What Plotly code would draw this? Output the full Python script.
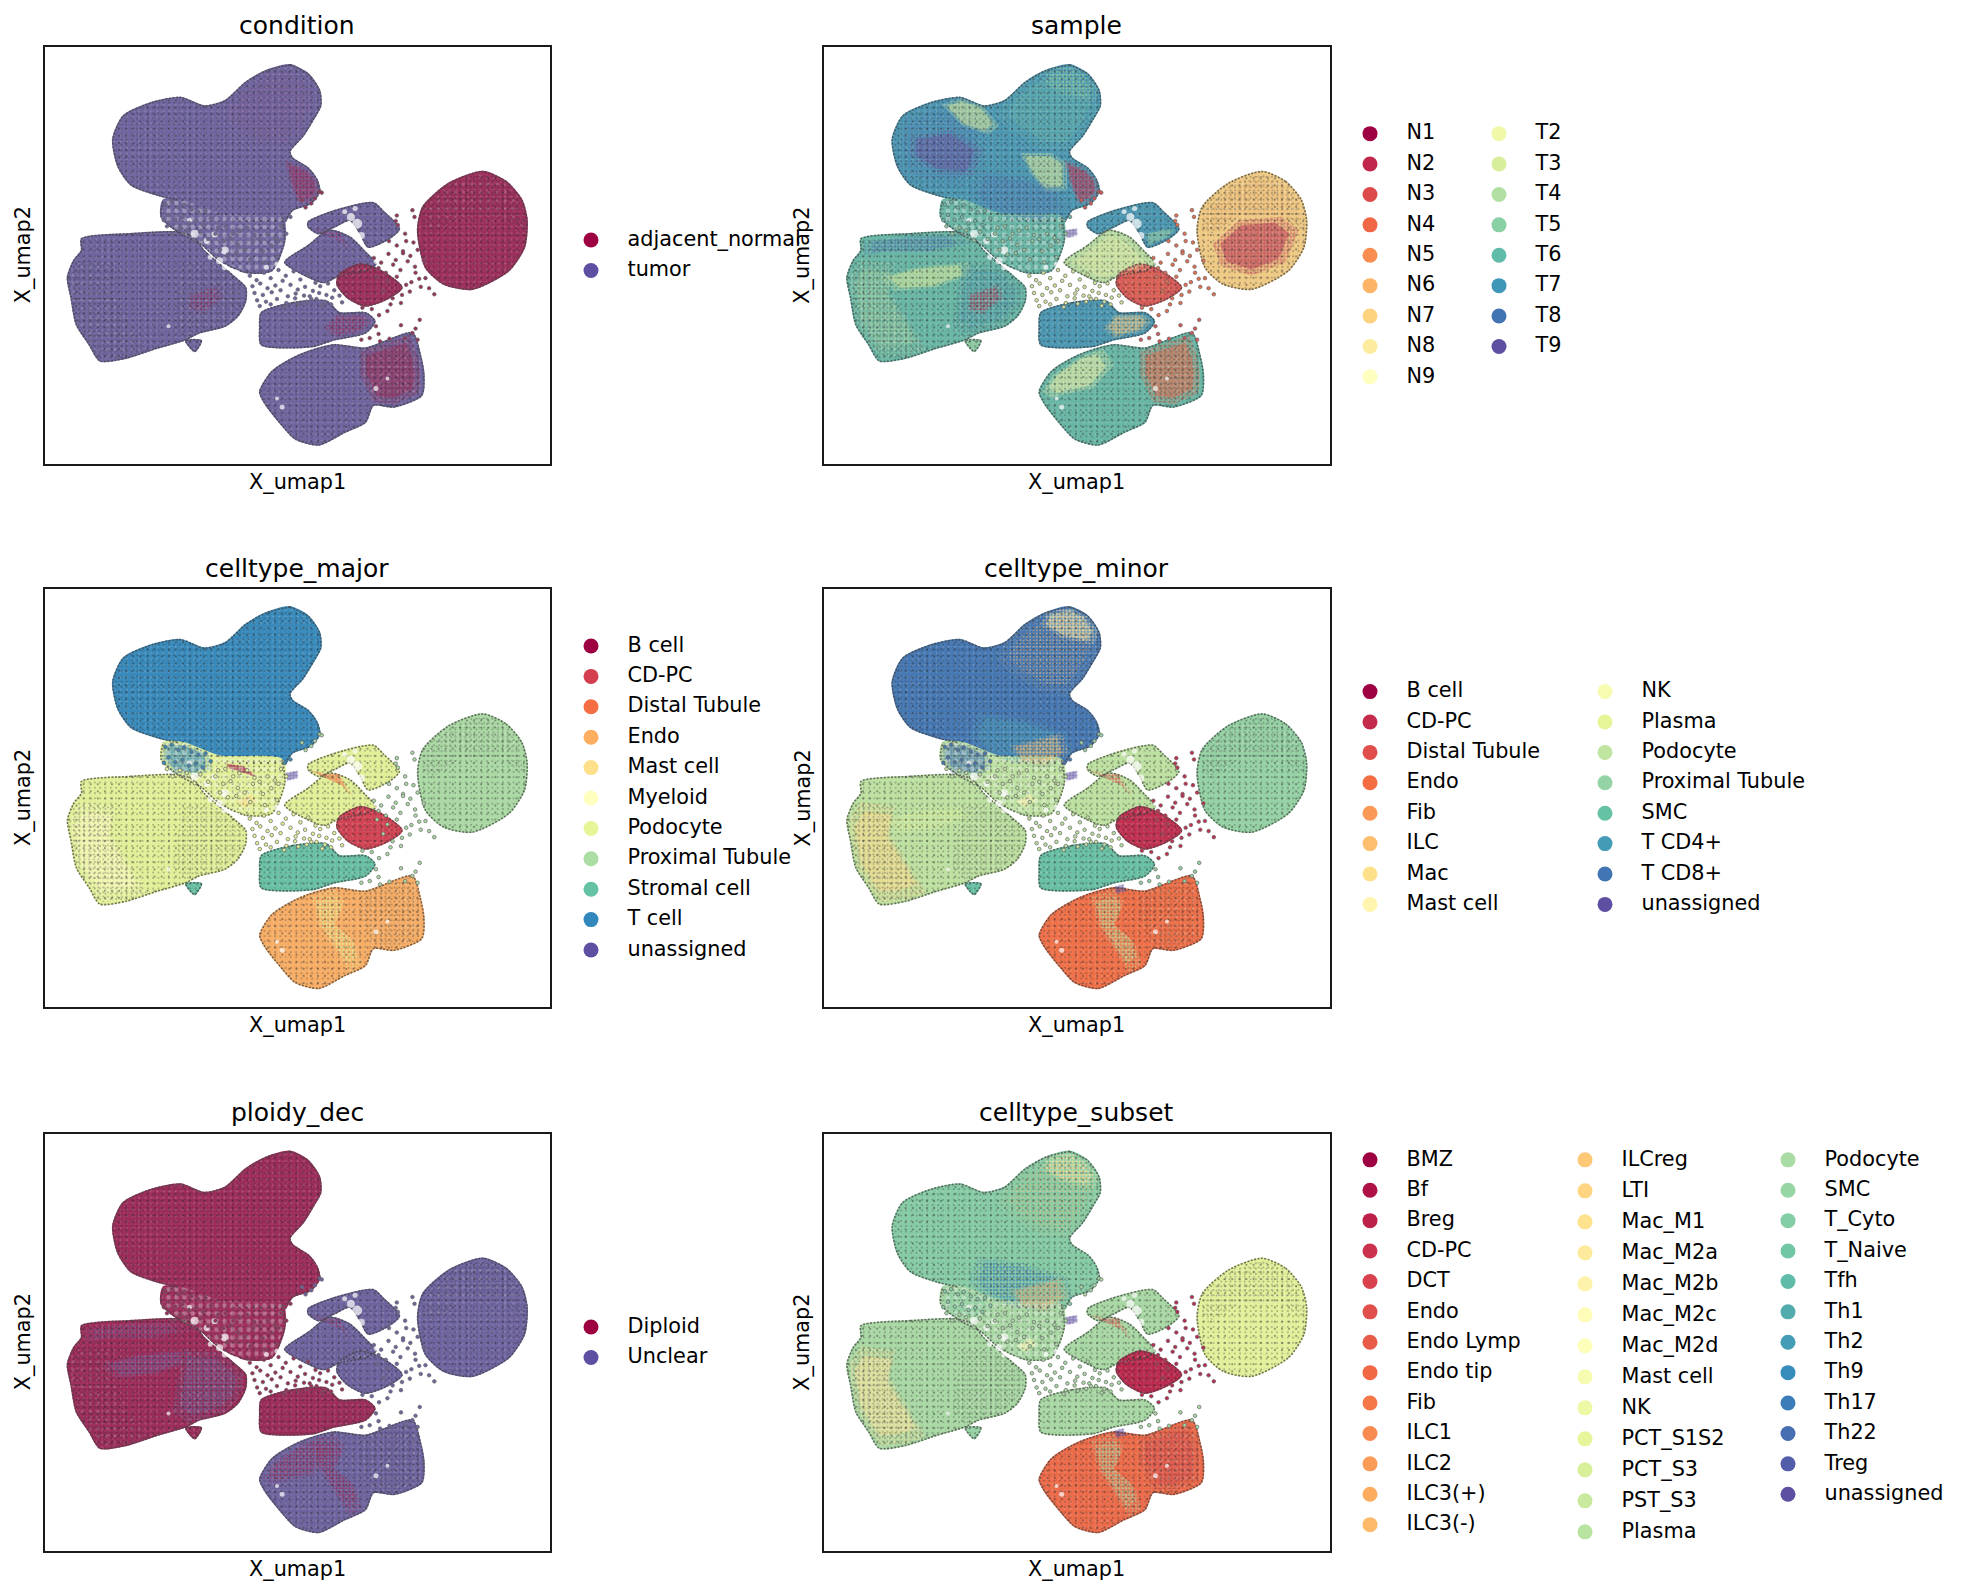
import plotly.graph_objects as go
from plotly.colors import sample_colorscale, diverging

W, H = 1967, 1596
FONT = "DejaVu Sans"

# legend categories, one list per panel
condition = ["adjacent_normal", "tumor"]
sample = ["N1", "N2", "N3", "N4", "N5", "N6", "N7", "N8", "N9",
          "T2", "T3", "T4", "T5", "T6", "T7", "T8", "T9"]
celltype_major = ["B cell", "CD-PC", "Distal Tubule", "Endo", "Mast cell", "Myeloid", "Podocyte",
                  "Proximal Tubule", "Stromal cell", "T cell", "unassigned"]
celltype_minor = ["B cell", "CD-PC", "Distal Tubule", "Endo", "Fib", "ILC", "Mac", "Mast cell",
                  "NK", "Plasma", "Podocyte", "Proximal Tubule", "SMC", "T CD4+", "T CD8+", "unassigned"]
ploidy_dec = ["Diploid", "Unclear"]
celltype_subset = ["BMZ", "Bf", "Breg", "CD-PC", "DCT", "Endo", "Endo Lymp", "Endo tip", "Fib",
                   "ILC1", "ILC2", "ILC3(+)", "ILC3(-)",
                   "ILCreg", "LTI", "Mac_M1", "Mac_M2a", "Mac_M2b", "Mac_M2c", "Mac_M2d", "Mast cell",
                   "NK", "PCT_S1S2", "PCT_S3", "PST_S3", "Plasma",
                   "Podocyte", "SMC", "T_Cyto", "T_Naive", "Tfh", "Th1", "Th2", "Th9", "Th17", "Th22",
                   "Treg", "unassigned"]

# cluster outlines (x1, x2 positions, x2 running downwards)
tcell_x = [555, 590, 612, 614, 600, 580, 555, 560, 590, 607, 612, 595, 560, 545, 500, 440, 380, 340, 300, 250, 225, 215, 235, 290, 345, 390, 430, 470, 510, 555]
tcell_y = [188, 215, 265, 310, 350, 400, 445, 465, 495, 530, 565, 600, 620, 655, 665, 650, 610, 590, 575, 545, 490, 410, 340, 300, 285, 310, 295, 240, 205, 188]
lobe_x = [430, 470, 510, 555, 590, 612, 614, 600, 580, 555, 500, 440, 415, 430]
lobe_y = [295, 240, 205, 188, 215, 265, 310, 350, 400, 445, 440, 380, 340, 295]
lobe_tip_x = [510, 555, 590, 612, 600, 540, 500, 510]
lobe_tip_y = [205, 188, 215, 265, 300, 280, 240, 205]
tleft_x = [215, 235, 290, 345, 390, 400, 390, 340, 280, 240, 225, 215]
tleft_y = [410, 340, 300, 285, 310, 400, 500, 560, 555, 530, 490, 410]
tcore_x = [250, 330, 390, 370, 300, 250, 250]
tcore_y = [400, 380, 440, 520, 510, 460, 400]
tyellow_x = [310, 345, 390, 420, 400, 350, 310]
tyellow_y = [305, 287, 310, 370, 395, 370, 305]
tmid_x = [460, 520, 550, 550, 510, 480, 460]
tmid_y = [450, 450, 480, 560, 570, 510, 450]
tlower_x = [380, 470, 550, 560, 510, 450, 390, 360, 380]
tlower_y = [500, 520, 560, 620, 665, 650, 620, 570, 500]
tlower2_x = [440, 540, 555, 510, 460, 440]
tlower2_y = [600, 560, 620, 665, 650, 600]
tred_x = [545, 585, 607, 612, 595, 570, 555, 545]
tred_y = [470, 495, 530, 570, 600, 600, 540, 470]
fringe_x = [312, 350, 420, 540, 545, 520, 470, 420, 385, 345, 308, 312]
fringe_y = [590, 590, 630, 640, 710, 800, 805, 770, 722, 690, 640, 590]
fringe_up_x = [312, 350, 400, 405, 380, 330, 308, 312]
fringe_up_y = [590, 590, 620, 665, 690, 680, 640, 590]

left_x = [155, 250, 340, 370, 390, 420, 450, 470, 470, 455, 430, 380, 355, 300, 240, 190, 170, 145, 135, 128, 140, 155, 155]
left_y = [705, 690, 685, 700, 740, 780, 820, 850, 890, 935, 965, 985, 1005, 1030, 1060, 1068, 1020, 960, 880, 820, 770, 740, 705]
ltop_x = [160, 250, 340, 365, 300, 200, 160, 160]
ltop_y = [712, 696, 692, 720, 745, 745, 755, 712]
lright_x = [350, 420, 465, 465, 450, 430, 360, 330, 340, 350]
lright_y = [775, 785, 850, 890, 930, 960, 995, 960, 860, 775]
louter_x = [140, 155, 220, 210, 250, 280, 240, 192, 172, 148, 138, 132, 140]
louter_y = [800, 765, 780, 860, 960, 1036, 1056, 1062, 1016, 956, 880, 820, 800]
lband_x = [190, 260, 360, 370, 300, 220, 190]
lband_y = [820, 790, 775, 810, 850, 860, 820]
lred_x = [360, 420, 430, 390, 360, 360]
lred_y = [870, 840, 880, 930, 920, 870]
tip_x = [355, 385, 372, 355]
tip_y = [1008, 1008, 1040, 1008]

arm_x = [590, 640, 715, 735, 765, 745, 705, 690, 670, 640, 610, 590, 590]
arm_y = [655, 622, 598, 625, 675, 705, 730, 690, 650, 670, 690, 670, 655]
armtip_x = [700, 740, 760, 745, 705, 700]
armtip_y = [690, 675, 677, 702, 726, 690]
body_x = [545, 590, 630, 670, 700, 720, 700, 650, 620, 585, 545]
body_y = [775, 725, 680, 700, 745, 780, 800, 815, 835, 815, 775]
cdpc_x = [650, 690, 730, 770, 740, 700, 665, 645, 650]
cdpc_y = [810, 780, 800, 850, 885, 905, 880, 840, 810]
pt_x = [925, 970, 1000, 1010, 1005, 975, 905, 850, 815, 800, 810, 860, 925]
pt_y = [505, 535, 590, 650, 730, 800, 855, 840, 790, 680, 610, 540, 505]
ptcore_x = [830, 880, 960, 995, 970, 905, 845, 830]
ptcore_y = [720, 650, 640, 680, 775, 815, 785, 720]
ptrim_x = [815, 862, 925, 966, 995, 1002, 960, 880, 830, 810, 815]
ptrim_y = [612, 546, 512, 540, 594, 680, 640, 640, 690, 680, 612]
stromal_x = [500, 560, 625, 650, 700, 718, 700, 640, 600, 500, 497, 500]
stromal_y = [925, 895, 890, 925, 925, 950, 985, 1005, 1025, 1020, 970, 925]
sright_x = [640, 698, 712, 696, 640, 620, 640]
sright_y = [932, 930, 950, 980, 1000, 970, 932]
endo_x = [590, 640, 700, 790, 805, 812, 808, 755, 715, 700, 660, 610, 565, 540, 505, 497, 520, 560, 590]
endo_y = [1040, 1020, 1030, 985, 1050, 1110, 1170, 1205, 1200, 1250, 1280, 1318, 1300, 1260, 1190, 1160, 1100, 1060, 1040]
eright_x = [690, 785, 800, 806, 802, 755, 715, 690, 690]
eright_y = [1040, 992, 1050, 1110, 1165, 1198, 1190, 1110, 1040]
eleft_x = [524, 580, 620, 640, 600, 520, 503, 524]
eleft_y = [1110, 1052, 1032, 1080, 1150, 1176, 1158, 1110]
estreak_x = [595, 640, 660, 640, 680, 694, 670, 640, 610, 595]
estreak_y = [1045, 1026, 1060, 1130, 1180, 1246, 1272, 1200, 1130, 1045]
unas_x = [545, 570, 572, 550, 545]
unas_y = [680, 672, 695, 705, 680]
unas2_x = [640, 660, 665, 645, 640]
unas2_y = [1015, 1008, 1030, 1040, 1015]
mast_x = [452, 480, 495, 470, 452]
mast_y = [765, 740, 760, 785, 765]
bstreak_x = [430, 470, 495, 465, 435, 430]
bstreak_y = [650, 660, 695, 680, 665, 650]
distal_x = [590, 620, 650, 665, 680, 660, 630, 590]
distal_y = [670, 680, 680, 720, 760, 720, 700, 670]

# loose cells between the clusters
loose_top_x = [316, 328, 341, 352, 366, 379, 393, 322, 335, 349, 361, 374, 388, 403, 417, 431, 446, 458, 473, 487, 319, 344, 357, 383, 398, 412, 427, 441, 455, 468, 484, 497, 512, 526, 538, 313, 330, 372, 421, 436, 452, 479, 503, 519, 533, 545, 556, 548, 530, 507]
loose_top_y = [603, 596, 612, 604, 618, 626, 622, 634, 648, 641, 658, 652, 664, 645, 672, 668, 690, 681, 672, 694, 668, 672, 680, 684, 706, 690, 712, 704, 724, 738, 712, 706, 690, 702, 668, 650, 690, 710, 738, 752, 748, 766, 742, 725, 712, 650, 640, 690, 760, 775]
loose_mid_x = [478, 491, 505, 518, 533, 547, 562, 575, 590, 604, 483, 498, 512, 527, 541, 556, 570, 584, 599, 613, 628, 487, 503, 520, 537, 551, 566, 582, 596, 611, 625, 640, 492, 509, 530, 548, 565, 587, 606, 622, 636, 650, 497, 518, 544, 571, 593, 617, 634, 655]
loose_mid_y = [815, 828, 806, 822, 798, 815, 802, 826, 812, 836, 846, 838, 852, 844, 830, 842, 856, 848, 860, 846, 838, 866, 872, 864, 858, 876, 868, 874, 884, 866, 872, 858, 888, 892, 884, 896, 882, 892, 884, 892, 880, 874, 905, 900, 908, 898, 876, 904, 900, 894]
loose_gap_x = [716, 730, 744, 758, 772, 786, 800, 725, 739, 753, 767, 781, 795, 812, 722, 742, 760, 778, 796, 815, 734, 752, 770, 788, 806, 748, 768, 785, 803, 822, 832, 760, 742, 726, 712, 694, 776, 758, 762, 778, 794, 760, 745, 772, 792, 790]
loose_gap_y = [762, 776, 750, 768, 742, 756, 738, 792, 806, 782, 798, 772, 788, 770, 818, 832, 818, 842, 806, 822, 860, 882, 872, 834, 848, 900, 896, 862, 824, 852, 870, 636, 920, 932, 914, 910, 690, 652, 664, 712, 640, 725, 712, 748, 716, 620]
loose_tail_x = [804, 796, 768, 725, 746, 790, 728, 708, 776, 800, 692, 720, 612, 603, 596, 616, 585, 578]
loose_tail_y = [946, 972, 962, 988, 1002, 985, 1010, 1000, 1000, 1005, 1005, 965, 565, 585, 600, 568, 612, 590]

# gaps inside the clusters
gap_x = [372, 395, 362, 410, 430, 420, 402, 684, 672, 692, 680, 660, 722, 322, 540, 530, 720, 742, 430, 452, 530, 510]
gap_y = [690, 712, 650, 692, 740, 770, 760, 660, 640, 695, 615, 625, 770, 965, 1205, 1180, 1150, 1120, 790, 805, 780, 790]
gap_size = [8, 6, 5, 6, 8, 7, 5, 10, 8, 7, 5, 5, 7, 4, 5, 4, 5, 4, 6, 6, 5, 5]

REGIONS = {
    "tcell": (tcell_x, tcell_y), "lobe": (lobe_x, lobe_y), "lobe_tip": (lobe_tip_x, lobe_tip_y),
    "tleft": (tleft_x, tleft_y), "tcore": (tcore_x, tcore_y), "tyellow": (tyellow_x, tyellow_y),
    "tmid": (tmid_x, tmid_y), "tlower": (tlower_x, tlower_y), "tlower2": (tlower2_x, tlower2_y),
    "tred": (tred_x, tred_y), "fringe": (fringe_x, fringe_y), "fringe_up": (fringe_up_x, fringe_up_y), "left": (left_x, left_y),
    "ltop": (ltop_x, ltop_y), "lright": (lright_x, lright_y), "louter": (louter_x, louter_y),
    "lband": (lband_x, lband_y), "lred": (lred_x, lred_y), "tip": (tip_x, tip_y),
    "arm": (arm_x, arm_y), "armtip": (armtip_x, armtip_y), "body": (body_x, body_y),
    "cdpc": (cdpc_x, cdpc_y), "pt": (pt_x, pt_y), "ptcore": (ptcore_x, ptcore_y), "ptrim": (ptrim_x, ptrim_y),
    "stromal": (stromal_x, stromal_y), "sright": (sright_x, sright_y), "endo": (endo_x, endo_y),
    "eright": (eright_x, eright_y), "eleft": (eleft_x, eleft_y), "estreak": (estreak_x, estreak_y),
    "unas": (unas_x, unas_y), "unas2": (unas2_x, unas2_y), "mast": (mast_x, mast_y),
    "bstreak": (bstreak_x, bstreak_y), "distal": (distal_x, distal_y),
}
OUTER = ["tcell", "fringe", "left", "arm", "body", "cdpc", "pt", "stromal", "endo", "tip"]
SPARSE = ["ptrim", "louter", "lright", "eright"]
OUTLINE_CUT = {"tcell": (14, 17), "fringe": (1, 3)}

# which category dominates each region, (region, category, strength)
condition_map = [
    ("tcell", "tumor", 1), ("fringe", "tumor", 1), ("left", "tumor", 1), ("arm", "tumor", 1), ("body", "tumor", 1),
    ("cdpc", "adjacent_normal", 1), ("pt", "adjacent_normal", 1), ("stromal", "tumor", 1), ("endo", "tumor", 1), ("tip", "tumor", 1),
    ("tleft", "tumor", .3), ("tcore", "tumor", .5), ("tlower", "tumor", .4), ("tred", "adjacent_normal", .7),
    ("lobe", "adjacent_normal", .08), ("lred", "adjacent_normal", .35), ("sright", "adjacent_normal", .5),
    ("eright", "adjacent_normal", .95), ("ptcore", "adjacent_normal", .6), ("distal", "adjacent_normal", .3),
]
sample_map = [
    ("tcell", "T7", 1), ("fringe", "T6", 1), ("left", "T6", 1), ("arm", "T7", 1), ("body", "T4", 1),
    ("cdpc", "N3", 1), ("pt", "N7", 1), ("stromal", "T7", 1), ("endo", "T6", 1), ("tip", "T5", 1),
    ("lobe", "T6", .6), ("lobe_tip", "T5", .4), ("tleft", "T8", .4), ("tcore", "T9", .85), ("tyellow", "T3", .9),
    ("tmid", "T3", .9), ("tlower", "T8", .6), ("tred", "N2", .8), ("ltop", "T8", .6), ("lband", "T3", .9),
    ("louter", "T4", .5), ("lright", "T7", .55), ("lred", "N2", .5), ("armtip", "T5", .9), ("body", "T2", .7),
    ("cdpc", "N4", .5), ("ptrim", "N6", .4), ("ptcore", "N2", .95), ("sright", "N7", .7), ("eleft", "T2", .95),
    ("eright", "N4", .95), ("unas", "T9", .9),
]
major_map = [
    ("tcell", "T cell", 1), ("fringe", "Podocyte", 1), ("left", "Podocyte", 1), ("arm", "Podocyte", 1), ("body", "Podocyte", 1),
    ("cdpc", "CD-PC", 1), ("pt", "Proximal Tubule", 1), ("stromal", "Stromal cell", 1), ("endo", "Endo", 1), ("tip", "Stromal cell", 1),
    ("fringe_up", "T cell", .9), ("louter", "Myeloid", .9), ("estreak", "Podocyte", .5), ("unas", "unassigned", .9), ("mast", "Mast cell", 1),
    ("bstreak", "B cell", .8), ("distal", "Distal Tubule", .8),
]
minor_map = [
    ("tcell", "T CD8+", 1), ("fringe", "Podocyte", 1), ("left", "Podocyte", 1), ("arm", "Podocyte", 1), ("body", "Podocyte", 1),
    ("cdpc", "CD-PC", 1), ("pt", "Proximal Tubule", 1), ("stromal", "SMC", 1), ("endo", "Endo", 1), ("tip", "SMC", 1),
    ("fringe_up", "T CD8+", .9), ("lobe_tip", "Mast cell", .7), ("lobe", "ILC", .2), ("tlower", "T CD4+", .65), ("tlower2", "ILC", .6),
    ("louter", "Mac", .9), ("lband", "Plasma", .4), ("estreak", "Podocyte", .6), ("unas", "unassigned", .9), ("unas2", "unassigned", .8),
    ("mast", "Mast cell", 1), ("distal", "Distal Tubule", .6),
]
ploidy_map = [
    ("tcell", "Diploid", 1), ("fringe", "Diploid", 1), ("left", "Diploid", 1), ("arm", "Unclear", 1), ("body", "Unclear", 1),
    ("cdpc", "Unclear", 1), ("pt", "Unclear", 1), ("stromal", "Diploid", 1), ("endo", "Unclear", 1), ("tip", "Diploid", 1),
    ("tcore", "Diploid", .5), ("tlower", "Diploid", .45), ("ltop", "Unclear", .35), ("lband", "Unclear", .55), ("lright", "Unclear", .6),
    ("distal", "Diploid", .35), ("eleft", "Diploid", .45), ("estreak", "Diploid", .45), ("ptcore", "Unclear", .4),
]
subset_map = [
    ("tcell", "T_Cyto", 1), ("fringe", "Podocyte", 1), ("left", "Podocyte", 1), ("arm", "Podocyte", 1), ("body", "Podocyte", 1),
    ("cdpc", "Breg", 1), ("pt", "PCT_S1S2", 1), ("stromal", "Podocyte", 1), ("endo", "Endo tip", 1), ("tip", "SMC", 1),
    ("fringe_up", "T_Cyto", .7), ("lobe_tip", "Mac_M2b", .6), ("lobe", "ILC3(-)", .15), ("tlower", "Th17", .45), ("tlower2", "ILC3(-)", .55),
    ("louter", "Mac_M2a", .9), ("eright", "Endo", .9), ("estreak", "Podocyte", .55), ("unas", "unassigned", .9), ("unas2", "unassigned", .8),
    ("mast", "Mac_M2c", 1), ("distal", "Endo", .6),
]

# loose cell colours: (upper top, lower top, middle, gap, tail); wash = how grey the outlines make the panel look
PANELS = [
    dict(title="condition", cats=condition, regions=condition_map, loose=("tumor", "tumor", "tumor", "adjacent_normal", "adjacent_normal"), col=0, row=0, legend_cols=[2], wash=.3),
    dict(title="sample", cats=sample, regions=sample_map, loose=("T6", "T5", "T3", "N4", "N3"), col=1, row=0, legend_cols=[9, 8], wash=.14),
    dict(title="celltype_major", cats=celltype_major, regions=major_map, loose=("T cell", "Podocyte", "Podocyte", "Proximal Tubule", "Proximal Tubule"), col=0, row=1, legend_cols=[11], wash=.05),
    dict(title="celltype_minor", cats=celltype_minor, regions=minor_map, loose=("T CD8+", "Podocyte", "Podocyte", "CD-PC", "Proximal Tubule"), col=1, row=1, legend_cols=[8, 8], wash=.05),
    dict(title="ploidy_dec", cats=ploidy_dec, regions=ploidy_map, loose=("Diploid", "Diploid", "Diploid", "Unclear", "Unclear"), col=0, row=2, legend_cols=[2], wash=.28),
    dict(title="celltype_subset", cats=celltype_subset, regions=subset_map, loose=("T_Cyto", "Podocyte", "Podocyte", "Breg", "Podocyte"), col=1, row=2, legend_cols=[13, 13, 12], wash=.05),
]

COL_LEFT = [44.5, 824]
PANEL_W = 505.5
ROW_TOP = [47, 589, 1133.5]
PANEL_H = [416.5, 418, 417.5]
LEGEND_MARKER_X = {
    "condition": [591], "sample": [1370, 1499], "celltype_major": [591], "celltype_minor": [1370, 1605],
    "ploidy_dec": [591], "celltype_subset": [1370, 1585, 1788],
}
LEGEND_TEXT_GAP = 36.5
ROW_STEP = 30.4


def palette(cats):
    points = [i / (len(cats) - 1) for i in range(len(cats))]
    return dict(zip(cats, sample_colorscale(diverging.Spectral, points, colortype="rgb")))


def rgb_parts(color):
    return [float(v) for v in color[color.index("(") + 1:-1].split(",")[:3]]


def tone(color, grey_part, alpha=1.0):
    r, g, b = [c * (1 - grey_part) + 150 * grey_part for c in rgb_parts(color)]
    return f"rgba({r:.0f},{g:.0f},{b:.0f},{alpha:.3f})"


def inset(vals, part=0.93):
    mid = sum(vals) / len(vals)
    return [mid + (v - mid) * part for v in vals]


def texture(fig, rx, ry, xa, ya, size, solidity, color):
    # dots from a fill pattern stand in for the mixed cells, no outline
    fig.add_trace(go.Scatter(
        x=rx, y=ry, xaxis=xa, yaxis=ya, mode="none", fill="toself", fillcolor="rgba(0,0,0,0)",
        fillpattern=dict(shape=".", size=size, solidity=solidity, fgcolor=color, bgcolor="rgba(0,0,0,0)"),
        hoverinfo="skip", showlegend=False))


fig = go.Figure()
layout = {}
annotations = []

for i, p in enumerate(PANELS):
    n = "" if i == 0 else str(i + 1)
    left, top, ph = COL_LEFT[p["col"]], ROW_TOP[p["row"]], PANEL_H[p["row"]]
    axis = dict(showgrid=False, zeroline=False, showticklabels=False, ticks="", showline=True,
                linecolor="#1a1a1a", linewidth=1.7, mirror=True, fixedrange=True)
    layout["xaxis" + n] = dict(axis, domain=[left / W, (left + PANEL_W) / W], range=[84, 1054], anchor="y" + n)
    layout["yaxis" + n] = dict(axis, domain=[1 - (top + ph) / H, 1 - top / H], range=[1373, 135], anchor="x" + n)
    xa, ya = "x" + n, "y" + n
    colors = palette(p["cats"])
    wash = p["wash"]

    for name, cat, strength in p["regions"]:
        rx, ry = REGIONS[name]
        if strength == 1 and name in OUTER:
            fig.add_trace(go.Scatter(x=rx, y=ry, xaxis=xa, yaxis=ya, mode="lines", fill="toself",
                                     fillcolor=tone(colors[cat], wash),
                                     line=dict(color=tone(colors[cat], wash), width=1.5, shape="spline", smoothing=0.7),
                                     hoverinfo="skip", showlegend=False))
        else:
            col = tone(colors[cat], wash)
            texture(fig, rx, ry, xa, ya, 3.3, min(1, strength * .6), col)
            texture(fig, inset(rx, .8), inset(ry, .8), xa, ya, 3.3, min(1, strength * 1.15), col)

    # speckle from the grey outlines and dark gaps, over every patch
    for name in OUTER:
        rx, ry = REGIONS[name]
        texture(fig, rx, ry, xa, ya, 3.7, 0.12, "rgba(210,210,210,0.4)")
        texture(fig, rx, ry, xa, ya, 6.1, 0.1, "rgba(235,235,235,0.35)")
        texture(fig, rx, ry, xa, ya, 5.3, 0.09, "rgba(40,40,40,0.75)")
        texture(fig, rx, ry, xa, ya, 7.1, 0.07, "rgba(30,30,30,0.85)")
    texture(fig, fringe_x, fringe_y, xa, ya, 8, 0.28, "rgba(255,255,255,0.6)")
    for name in SPARSE:
        rx, ry = REGIONS[name]
        texture(fig, rx, ry, xa, ya, 4.7, 0.13, "rgba(40,40,40,0.7)")
        texture(fig, rx, ry, xa, ya, 8.3, 0.08, "rgba(255,255,255,0.35)")
    for name in OUTER:
        rx, ry = REGIONS[name]
        lx, ly = list(rx), list(ry)
        if name in OUTLINE_CUT:
            a, b = OUTLINE_CUT[name]
            lx, ly = lx[:a] + [None] + lx[b:], ly[:a] + [None] + ly[b:]
        fig.add_trace(go.Scatter(x=lx, y=ly, xaxis=xa, yaxis=ya, mode="lines",
                                 line=dict(color="rgba(70,70,70,0.75)", width=1.6, shape="spline", smoothing=0.7, dash="2px,1.5px"),
                                 hoverinfo="skip", showlegend=False))

    fig.add_trace(go.Scatter(x=gap_x, y=gap_y, xaxis=xa, yaxis=ya, mode="markers",
                             marker=dict(color="white", size=gap_size, line=dict(width=0)),
                             hoverinfo="skip", showlegend=False))
    up_cat, low_cat, mid_cat, gap_cat, tail_cat = p["loose"]
    top_colors = [tone(colors[up_cat if v < 665 else low_cat], wash) for v in loose_top_y]
    groups = [(loose_top_x, loose_top_y, top_colors),
              (loose_mid_x, loose_mid_y, tone(colors[mid_cat], wash)),
              (loose_gap_x, loose_gap_y, tone(colors[gap_cat], wash)),
              (loose_tail_x, loose_tail_y, tone(colors[tail_cat], wash))]
    for gx, gy, gc in groups:
        fig.add_trace(go.Scatter(x=gx, y=gy, xaxis=xa, yaxis=ya, mode="markers",
                                 marker=dict(color=gc, size=3.6, line=dict(color="#666666", width=0.7)),
                                 hoverinfo="skip", showlegend=False))

    cx = left + PANEL_W / 2
    annotations.append(dict(text=p["title"], x=cx / W, y=1 - (top - 21) / H, xref="paper", yref="paper",
                            showarrow=False, xanchor="center", yanchor="middle", font=dict(size=25, color="black", family=FONT)))
    annotations.append(dict(text="X_umap1", x=cx / W, y=1 - (top + ph + 18) / H, xref="paper", yref="paper",
                            showarrow=False, xanchor="center", yanchor="middle", font=dict(size=20.8, color="black", family=FONT)))
    annotations.append(dict(text="X_umap2", x=(left - 21.5) / W, y=1 - (top + ph / 2) / H, xref="paper", yref="paper", textangle=-90,
                            showarrow=False, xanchor="center", yanchor="middle", font=dict(size=20.8, color="black", family=FONT)))

    # legend, centred on the panel like scanpy's
    longest = max(p["legend_cols"])
    y0 = top + ph / 2 - (longest - 1) / 2 * ROW_STEP
    start = 0
    for c, count in enumerate(p["legend_cols"]):
        step = 31 if (p["title"] == "celltype_subset" and c == 1) else ROW_STEP
        labels = p["cats"][start:start + count]
        mx = [LEGEND_MARKER_X[p["title"]][c]] * count
        my = [y0 + k * step for k in range(count)]
        fig.add_trace(go.Scatter(x=mx, y=my, xaxis="x7", yaxis="y7", mode="markers",
                                 marker=dict(color=[colors[l] for l in labels], size=15, line=dict(width=0)),
                                 hoverinfo="skip", showlegend=False))
        fig.add_trace(go.Scatter(x=[v + LEGEND_TEXT_GAP for v in mx], y=[v + 0.5 for v in my], xaxis="x7", yaxis="y7", mode="text",
                                 text=labels, textposition="middle right",
                                 textfont=dict(size=20.8, color="black", family=FONT),
                                 hoverinfo="skip", showlegend=False))
        start += count

layout["xaxis7"] = dict(domain=[0, 1], range=[0, W], visible=False, anchor="y7", fixedrange=True)
layout["yaxis7"] = dict(domain=[0, 1], range=[H, 0], visible=False, anchor="x7", fixedrange=True)

fig.update_layout(width=W, height=H, margin=dict(l=0, r=0, t=0, b=0), plot_bgcolor="rgba(0,0,0,0)", paper_bgcolor="white",
                  font=dict(family=FONT), annotations=annotations, showlegend=False, **layout)

fig.write_html("out.html", post_script="document.body.style.margin='0';", config=dict(displayModeBar=False))
